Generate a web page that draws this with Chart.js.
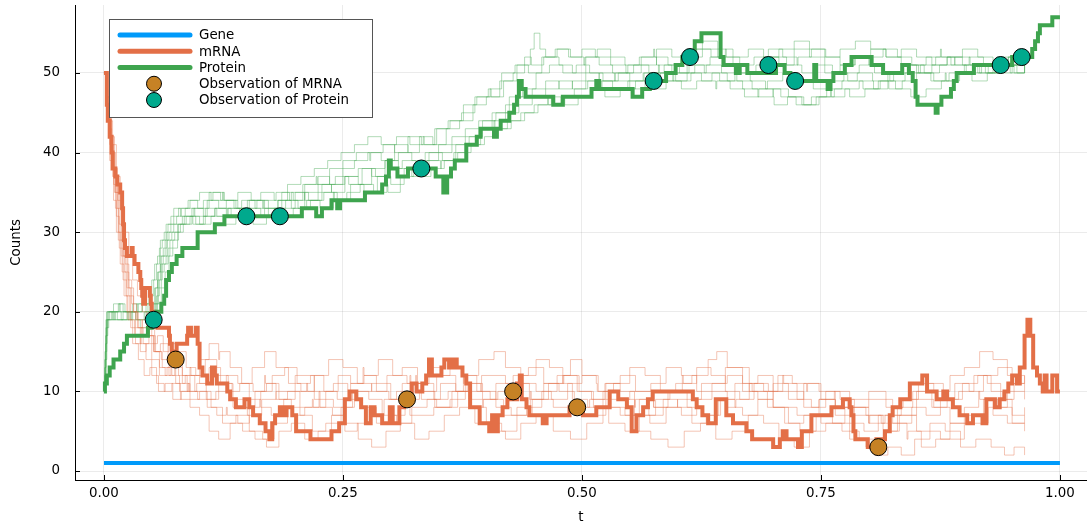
<!DOCTYPE html>
<html><head><meta charset="utf-8">
<script src="https://cdn.jsdelivr.net/npm/chart.js@4"></script>
<style>html,body{margin:0;padding:0;background:#fff;}#wrap{width:1087px;height:527px;}</style>
</head><body>
<div id="wrap"><canvas id="c" width="1087" height="527"></canvas></div>
<script>
// ---------- data ----------
const xTicks = [0, 0.25, 0.5, 0.75, 1.0];
const yTicks = [0, 10, 20, 30, 40, 50];
const seriesNames = ['Gene', 'mRNA', 'Protein', 'Observation of MRNA', 'Observation of Protein'];

const geneRun = [[0,1],[1,1]];

const mrnaRun = [[0,50],[0.003,46],[0.004,44],[0.006,42],[0.008,40],[0.009,38],[0.012,37],[0.014,36],[0.017,35],[0.019,33],[0.020,31],[0.021,29],[0.022,28],[0.024,27],[0.029,28],[0.030,27],[0.032,26],[0.036,25],[0.038,24],[0.039,23],[0.040,22],[0.041,21],[0.043,23],[0.048,22],[0.049,21],[0.050,20],[0.053,19],[0.056,18],[0.068,17],[0.069,16],[0.071,15],[0.076,16],[0.087,17],[0.088,18],[0.091,17],[0.096,18],[0.098,16],[0.100,13],[0.103,12],[0.108,11],[0.113,13],[0.116,12],[0.118,11],[0.129,10],[0.132,9],[0.138,8],[0.147,9],[0.152,8],[0.156,7],[0.163,6],[0.169,5],[0.173,4],[0.176,6],[0.179,7],[0.184,8],[0.187,7],[0.191,8],[0.197,7],[0.201,5],[0.216,4],[0.238,5],[0.246,6],[0.252,9],[0.257,10],[0.264,9],[0.269,8],[0.274,6],[0.279,8],[0.283,7],[0.291,6],[0.299,8],[0.302,6],[0.309,8],[0.314,9],[0.322,11],[0.327,10],[0.333,11],[0.337,12],[0.340,14],[0.343,12],[0.353,13],[0.356,14],[0.361,13],[0.365,14],[0.369,13],[0.375,12],[0.379,11],[0.383,8],[0.393,6],[0.403,5],[0.406,7],[0.408,5],[0.412,7],[0.417,8],[0.422,9],[0.432,11],[0.435,12],[0.437,9],[0.442,8],[0.445,7],[0.459,6],[0.463,7],[0.487,8],[0.501,7],[0.515,8],[0.529,10],[0.538,9],[0.547,8],[0.552,5],[0.557,7],[0.564,8],[0.569,9],[0.574,10],[0.616,9],[0.620,8],[0.626,7],[0.632,6],[0.640,9],[0.651,7],[0.658,6],[0.672,5],[0.678,4],[0.700,3],[0.707,4],[0.710,5],[0.714,4],[0.726,3],[0.730,5],[0.740,7],[0.761,8],[0.773,9],[0.780,8],[0.782,7],[0.784,5],[0.786,4],[0.799,3],[0.808,4],[0.817,5],[0.822,7],[0.825,8],[0.833,9],[0.843,11],[0.856,12],[0.861,10],[0.871,9],[0.878,10],[0.882,9],[0.888,8],[0.895,7],[0.903,6],[0.909,7],[0.919,6],[0.923,9],[0.932,8],[0.937,9],[0.942,10],[0.946,11],[0.950,12],[0.955,11],[0.958,13],[0.963,17],[0.966,19],[0.969,17],[0.972,13],[0.976,12],[0.979,11],[0.982,10],[0.984,12],[0.986,10],[0.992,12],[0.997,10],[1.0,10]];

const proteinRun = [[0,10],[0.001,11],[0.003,12],[0.006,13],[0.010,14],[0.017,15],[0.021,16],[0.024,17],[0.046,18],[0.050,19],[0.055,20],[0.060,21],[0.063,22],[0.065,24],[0.068,25],[0.071,26],[0.076,27],[0.082,28],[0.098,30],[0.116,31],[0.126,32],[0.207,33],[0.222,32],[0.228,33],[0.238,34],[0.244,33],[0.247,34],[0.273,35],[0.291,36],[0.295,37],[0.298,39],[0.300,38],[0.307,37],[0.318,38],[0.347,37],[0.355,35],[0.359,37],[0.363,38],[0.367,39],[0.379,41],[0.390,42],[0.394,43],[0.408,42],[0.411,43],[0.415,44],[0.424,45],[0.429,46],[0.432,47],[0.434,49],[0.437,48],[0.441,47],[0.470,46],[0.480,47],[0.510,48],[0.515,49],[0.518,48],[0.553,47],[0.563,48],[0.571,49],[0.588,50],[0.598,51],[0.605,52],[0.618,54],[0.625,55],[0.645,52],[0.648,51],[0.661,50],[0.665,51],[0.673,50],[0.703,51],[0.712,50],[0.718,49],[0.743,51],[0.745,49],[0.757,48],[0.760,49],[0.763,50],[0.775,51],[0.782,52],[0.803,51],[0.815,50],[0.835,51],[0.842,50],[0.846,49],[0.849,47],[0.851,46],[0.870,45],[0.872,46],[0.876,47],[0.886,48],[0.889,49],[0.892,50],[0.910,51],[0.950,52],[0.971,53],[0.974,54],[0.977,55],[0.979,56],[0.992,57],[1.0,57]];

const mrnaObsT = [0.075, 0.317, 0.428, 0.495, 0.810];
const mrnaObsV = [14, 9, 10, 8, 3];
const proteinObsT = [0.052, 0.149, 0.184, 0.332, 0.575, 0.613, 0.695, 0.723, 0.938, 0.960];
const proteinObsV = [19, 32, 32, 38, 49, 52, 51, 49, 51, 52];

const mrnaSample1 = [[0,50],[0.003,45],[0.006,41],[0.009,37],[0.012,33],[0.015,29],[0.019,25],[0.023,22],[0.027,19],[0.032,17],[0.038,15],[0.044,16],[0.05,14],[0.058,12],[0.066,13],[0.075,11],[0.085,12],[0.095,10],[0.108,9],[0.12,11],[0.135,8],[0.15,7],[0.165,9],[0.18,10],[0.2,12],[0.22,9],[0.24,8],[0.26,10],[0.28,11],[0.3,9],[0.32,7],[0.345,8],[0.37,10],[0.395,12],[0.42,11],[0.445,9],[0.47,8],[0.5,7],[0.525,9],[0.55,10],[0.575,8],[0.6,9],[0.625,11],[0.65,13],[0.675,10],[0.7,8],[0.725,7],[0.75,6],[0.775,8],[0.8,9],[0.825,7],[0.85,5],[0.875,4],[0.9,6],[0.925,8],[0.945,10],[0.963,9]];
const mrnaSample2 = [[0,50],[0.004,46],[0.007,42],[0.011,38],[0.014,34],[0.018,30],[0.021,27],[0.025,24],[0.029,21],[0.034,19],[0.04,17],[0.047,18],[0.053,15],[0.06,14],[0.068,12],[0.074,13],[0.082,11],[0.09,9],[0.1,10],[0.112,8],[0.124,6],[0.138,7],[0.152,5],[0.166,4],[0.178,6],[0.192,8],[0.205,7],[0.218,5],[0.232,6],[0.248,8],[0.262,10],[0.277,9],[0.291,7],[0.306,6],[0.322,8],[0.338,9],[0.352,11],[0.368,10],[0.384,8],[0.4,6],[0.416,5],[0.432,7],[0.448,9],[0.465,11],[0.48,12],[0.497,10],[0.512,8],[0.528,6],[0.545,5],[0.56,7],[0.577,9],[0.592,10],[0.61,8],[0.627,7],[0.643,9],[0.66,11],[0.678,10],[0.694,8],[0.712,6],[0.728,5],[0.745,7],[0.762,6],[0.78,4],[0.797,3],[0.815,5],[0.832,7],[0.85,9],[0.868,8],[0.885,6],[0.903,7],[0.92,9],[0.935,8],[0.95,6],[0.963,7]];
const mrnaSample3 = [[0,50],[0.002,47],[0.005,43],[0.008,39],[0.01,36],[0.013,32],[0.016,28],[0.02,24],[0.024,20],[0.028,18],[0.033,16],[0.039,18],[0.045,17],[0.052,15],[0.059,16],[0.067,14],[0.076,15],[0.086,13],[0.096,12],[0.106,14],[0.118,12],[0.13,10],[0.142,11],[0.155,13],[0.168,15],[0.18,13],[0.193,11],[0.206,10],[0.22,12],[0.235,14],[0.25,13],[0.265,11],[0.28,10],[0.296,12],[0.312,13],[0.328,11],[0.345,9],[0.36,10],[0.376,12],[0.392,14],[0.408,15],[0.42,13],[0.436,11],[0.452,10],[0.468,9],[0.485,11],[0.5,12],[0.517,10],[0.533,11],[0.55,13],[0.566,12],[0.582,10],[0.598,11],[0.615,12],[0.632,14],[0.641,15],[0.652,13],[0.668,11],[0.684,12],[0.7,10],[0.716,9],[0.732,11],[0.748,10],[0.765,8],[0.782,9],[0.8,10],[0.818,8],[0.836,9],[0.852,11],[0.868,10],[0.885,12],[0.9,13],[0.916,15],[0.93,14],[0.945,12],[0.963,11]];
const mrnaSample4 = [[0,50],[0.003,44],[0.006,39],[0.01,34],[0.013,30],[0.017,26],[0.021,22],[0.025,19],[0.03,16],[0.036,14],[0.042,12],[0.048,13],[0.055,11],[0.063,10],[0.071,11],[0.08,9],[0.09,8],[0.1,7],[0.11,5],[0.12,4],[0.132,6],[0.145,5],[0.158,4],[0.17,3],[0.183,5],[0.196,6],[0.21,4],[0.224,5],[0.238,7],[0.252,6],[0.266,4],[0.28,3],[0.295,5],[0.31,6],[0.325,4],[0.34,5],[0.356,7],[0.372,8],[0.388,6],[0.404,5],[0.42,4],[0.436,6],[0.452,7],[0.47,5],[0.488,4],[0.505,6],[0.522,8],[0.54,7],[0.556,5],[0.572,4],[0.59,3],[0.607,5],[0.624,6],[0.64,4],[0.657,5],[0.674,7],[0.69,6],[0.706,4],[0.722,3],[0.738,5],[0.755,6],[0.772,5],[0.79,4],[0.806,2],[0.82,3],[0.834,2],[0.848,4],[0.864,6],[0.88,5],[0.896,3],[0.912,4],[0.928,3],[0.942,2],[0.952,3],[0.963,2]];
const mrnaSample5 = [[0,50],[0.004,45],[0.008,40],[0.012,35],[0.016,31],[0.02,27],[0.024,23],[0.028,20],[0.033,18],[0.038,16],[0.044,14],[0.05,12],[0.057,10],[0.064,11],[0.072,9],[0.081,10],[0.09,12],[0.1,11],[0.11,13],[0.122,11],[0.134,9],[0.146,8],[0.158,10],[0.17,11],[0.183,9],[0.196,7],[0.21,8],[0.225,10],[0.24,11],[0.255,9],[0.27,8],[0.285,6],[0.3,7],[0.315,9],[0.33,10],[0.346,8],[0.362,9],[0.378,11],[0.394,10],[0.41,8],[0.426,7],[0.442,8],[0.458,10],[0.474,11],[0.49,9],[0.506,8],[0.522,10],[0.538,9],[0.555,7],[0.571,6],[0.588,8],[0.604,7],[0.62,9],[0.636,10],[0.652,8],[0.668,7],[0.684,9],[0.7,8],[0.716,6],[0.732,7],[0.748,9],[0.764,10],[0.78,8],[0.797,7],[0.813,6],[0.83,8],[0.846,10],[0.862,11],[0.878,9],[0.894,10],[0.91,12],[0.924,11],[0.938,9],[0.95,7],[0.963,8]];
const mrnaSample6 = [[0,50],[0.003,46],[0.007,41],[0.01,37],[0.014,33],[0.018,29],[0.022,26],[0.026,23],[0.031,20],[0.036,18],[0.041,16],[0.047,17],[0.054,15],[0.061,13],[0.069,14],[0.078,12],[0.087,10],[0.097,11],[0.107,9],[0.117,10],[0.128,12],[0.14,11],[0.152,9],[0.164,10],[0.176,12],[0.189,13],[0.202,11],[0.216,12],[0.23,10],[0.244,9],[0.258,11],[0.272,12],[0.287,14],[0.302,12],[0.317,11],[0.332,9],[0.348,8],[0.364,10],[0.38,11],[0.396,9],[0.412,10],[0.428,12],[0.444,13],[0.46,11],[0.476,10],[0.492,8],[0.508,9],[0.524,11],[0.54,12],[0.556,10],[0.572,11],[0.588,13],[0.604,12],[0.62,10],[0.636,11],[0.652,12],[0.668,10],[0.684,9],[0.7,11],[0.716,10],[0.732,8],[0.748,9],[0.765,7],[0.782,8],[0.8,6],[0.817,7],[0.834,9],[0.85,10],[0.866,8],[0.882,9],[0.898,11],[0.914,12],[0.928,10],[0.94,9],[0.952,11],[0.963,10]];
const mrnaSample7 = [[0,50],[0.002,48],[0.004,44],[0.007,40],[0.011,35],[0.015,30],[0.018,27],[0.022,25],[0.026,22],[0.031,20],[0.035,18],[0.04,19],[0.046,17],[0.052,15],[0.058,13],[0.064,12],[0.07,13],[0.071,12],[0.079,10],[0.088,11],[0.089,10],[0.098,9],[0.108,8],[0.118,7],[0.128,8],[0.129,7],[0.14,6],[0.152,8],[0.163,9],[0.164,8],[0.175,7],[0.188,9],[0.2,10],[0.212,11],[0.213,10],[0.226,8],[0.239,7],[0.252,5],[0.265,6],[0.279,8],[0.28,7],[0.293,9],[0.306,10],[0.32,12],[0.321,11],[0.334,10],[0.348,12],[0.362,13],[0.376,11],[0.377,12],[0.39,10],[0.404,9],[0.418,7],[0.432,8],[0.446,10],[0.447,9],[0.46,11],[0.474,12],[0.488,14],[0.5,12],[0.515,11],[0.516,10],[0.53,8],[0.545,7],[0.56,9],[0.575,8],[0.59,10],[0.605,12],[0.606,11],[0.62,13],[0.635,12],[0.65,10],[0.665,9],[0.68,11],[0.695,10],[0.71,12],[0.711,11],[0.725,9],[0.74,8],[0.755,10],[0.77,9],[0.785,7],[0.8,6],[0.801,7],[0.815,5],[0.83,6],[0.845,8],[0.86,7],[0.875,9],[0.89,11],[0.905,10],[0.92,12],[0.935,13],[0.95,11],[0.963,12]];
const mrnaSample8 = [[0,50],[0.003,47],[0.006,44],[0.009,41],[0.013,37],[0.017,33],[0.021,30],[0.026,27],[0.03,24],[0.035,22],[0.04,20],[0.045,18],[0.05,16],[0.056,17],[0.062,15],[0.068,16],[0.075,14],[0.082,12],[0.09,13],[0.091,12],[0.1,14],[0.11,16],[0.12,14],[0.121,15],[0.132,13],[0.144,11],[0.156,10],[0.168,12],[0.169,11],[0.18,9],[0.192,10],[0.205,8],[0.218,9],[0.219,8],[0.232,10],[0.245,12],[0.258,11],[0.271,13],[0.272,12],[0.285,10],[0.298,9],[0.312,11],[0.326,12],[0.327,11],[0.34,13],[0.354,12],[0.368,10],[0.382,9],[0.396,8],[0.397,9],[0.41,11],[0.424,10],[0.438,12],[0.452,14],[0.466,13],[0.48,11],[0.481,12],[0.495,10],[0.51,9],[0.525,11],[0.54,10],[0.555,8],[0.556,9],[0.57,7],[0.585,9],[0.6,8],[0.615,6],[0.63,7],[0.645,9],[0.66,8],[0.661,9],[0.675,11],[0.69,10],[0.705,12],[0.72,11],[0.735,10],[0.736,11],[0.75,9],[0.765,8],[0.78,6],[0.795,5],[0.81,7],[0.825,6],[0.84,4],[0.841,5],[0.855,3],[0.87,4],[0.885,6],[0.9,8],[0.915,10],[0.916,9],[0.93,7],[0.945,6],[0.963,5]];

const proteinSample1 = [[0,10],[0.001,13],[0.002,16],[0.003,19],[0.004,20],[0.015,21],[0.02,20],[0.035,19],[0.042,20],[0.05,21],[0.053,23],[0.056,25],[0.059,27],[0.062,28],[0.066,30],[0.07,31],[0.076,32],[0.085,33],[0.095,32],[0.108,34],[0.12,33],[0.133,32],[0.146,33],[0.16,34],[0.172,33],[0.186,35],[0.198,34],[0.21,36],[0.224,37],[0.236,36],[0.25,38],[0.262,39],[0.276,40],[0.29,39],[0.304,41],[0.318,40],[0.33,42],[0.344,41],[0.358,43],[0.372,44],[0.386,46],[0.4,47],[0.414,49],[0.428,50],[0.44,52],[0.446,53],[0.45,55],[0.456,53],[0.462,52],[0.476,51],[0.49,50],[0.504,52],[0.518,51],[0.532,50],[0.548,51],[0.562,52],[0.578,51],[0.594,50],[0.61,52],[0.626,53],[0.642,52],[0.658,51],[0.674,50],[0.69,52],[0.706,51],[0.722,53],[0.738,52],[0.754,50],[0.77,51],[0.786,52],[0.802,53],[0.818,52],[0.834,51],[0.85,50],[0.866,51],[0.882,52],[0.898,51],[0.914,50],[0.93,51],[0.946,52],[0.963,52]];
const proteinSample2 = [[0,10],[0.001,12],[0.002,15],[0.003,18],[0.004,19],[0.012,20],[0.025,19],[0.038,18],[0.046,19],[0.052,20],[0.055,22],[0.058,24],[0.061,26],[0.065,27],[0.069,29],[0.074,30],[0.08,31],[0.09,32],[0.1,31],[0.112,32],[0.125,31],[0.138,32],[0.15,33],[0.164,32],[0.178,33],[0.19,34],[0.203,33],[0.216,34],[0.23,35],[0.244,34],[0.258,36],[0.272,35],[0.286,37],[0.3,36],[0.314,38],[0.328,37],[0.342,38],[0.356,39],[0.37,40],[0.384,41],[0.398,42],[0.412,43],[0.426,44],[0.44,45],[0.454,46],[0.468,47],[0.482,46],[0.496,47],[0.51,48],[0.524,47],[0.54,48],[0.556,49],[0.572,48],[0.588,49],[0.604,48],[0.62,49],[0.636,50],[0.652,49],[0.668,48],[0.684,47],[0.7,48],[0.716,47],[0.732,46],[0.748,47],[0.764,48],[0.78,47],[0.796,48],[0.812,49],[0.828,48],[0.844,47],[0.86,48],[0.876,49],[0.892,50],[0.908,49],[0.924,50],[0.94,51],[0.963,51]];
const proteinSample3 = [[0,10],[0.001,14],[0.002,17],[0.003,20],[0.01,21],[0.022,20],[0.03,21],[0.044,20],[0.049,22],[0.052,24],[0.055,26],[0.058,28],[0.061,29],[0.065,31],[0.07,32],[0.078,33],[0.088,34],[0.098,33],[0.11,35],[0.122,34],[0.136,33],[0.15,34],[0.164,35],[0.178,34],[0.192,36],[0.206,37],[0.22,38],[0.234,39],[0.248,40],[0.262,41],[0.276,42],[0.29,41],[0.304,40],[0.318,42],[0.332,41],[0.346,43],[0.36,44],[0.374,45],[0.388,47],[0.402,48],[0.416,50],[0.43,51],[0.444,50],[0.458,52],[0.472,53],[0.486,52],[0.5,53],[0.514,52],[0.53,51],[0.546,50],[0.562,51],[0.578,53],[0.594,52],[0.61,53],[0.626,54],[0.642,53],[0.658,52],[0.674,53],[0.69,52],[0.706,53],[0.722,54],[0.738,53],[0.754,52],[0.77,53],[0.786,54],[0.802,53],[0.818,52],[0.834,53],[0.85,52],[0.866,51],[0.882,52],[0.898,53],[0.914,52],[0.93,51],[0.946,52],[0.963,53]];
const proteinSample4 = [[0,10],[0.001,13],[0.002,17],[0.003,19],[0.006,20],[0.018,19],[0.03,20],[0.04,21],[0.048,20],[0.051,21],[0.054,23],[0.057,25],[0.06,27],[0.064,29],[0.068,30],[0.073,31],[0.082,32],[0.092,33],[0.104,32],[0.116,33],[0.128,34],[0.14,33],[0.154,32],[0.168,33],[0.182,34],[0.196,33],[0.21,35],[0.224,36],[0.238,35],[0.252,37],[0.266,38],[0.28,37],[0.294,39],[0.308,40],[0.322,39],[0.336,40],[0.35,41],[0.364,42],[0.378,43],[0.392,44],[0.406,45],[0.42,46],[0.434,47],[0.448,48],[0.462,49],[0.476,48],[0.49,49],[0.504,50],[0.518,49],[0.532,48],[0.548,49],[0.564,50],[0.58,49],[0.596,50],[0.612,51],[0.628,50],[0.644,49],[0.66,50],[0.676,49],[0.692,48],[0.708,47],[0.724,46],[0.74,47],[0.756,48],[0.772,49],[0.788,50],[0.804,49],[0.82,50],[0.836,51],[0.852,50],[0.868,49],[0.884,50],[0.9,51],[0.916,50],[0.932,51],[0.948,50],[0.963,51]];
const proteinSample5 = [[0,10],[0.001,12],[0.002,16],[0.003,18],[0.005,20],[0.014,19],[0.026,20],[0.036,21],[0.046,20],[0.054,21],[0.057,23],[0.06,25],[0.063,26],[0.067,28],[0.072,29],[0.078,31],[0.086,32],[0.096,31],[0.106,33],[0.118,32],[0.13,33],[0.144,34],[0.158,33],[0.172,32],[0.186,33],[0.2,35],[0.214,34],[0.228,36],[0.242,37],[0.256,36],[0.27,38],[0.284,37],[0.298,38],[0.312,39],[0.326,38],[0.34,40],[0.354,39],[0.368,41],[0.382,42],[0.396,44],[0.41,45],[0.424,47],[0.438,48],[0.452,50],[0.466,51],[0.48,50],[0.494,51],[0.508,50],[0.522,49],[0.538,50],[0.554,51],[0.57,50],[0.586,51],[0.602,50],[0.618,51],[0.634,52],[0.65,51],[0.666,50],[0.682,51],[0.698,52],[0.714,51],[0.73,50],[0.746,51],[0.762,50],[0.778,49],[0.794,48],[0.81,49],[0.826,50],[0.842,51],[0.858,50],[0.874,51],[0.89,52],[0.906,51],[0.922,50],[0.938,51],[0.952,50],[0.963,51]];
const proteinSample6 = [[0,10],[0.001,14],[0.002,18],[0.003,20],[0.009,19],[0.02,20],[0.033,19],[0.043,20],[0.05,19],[0.053,21],[0.056,24],[0.059,26],[0.062,27],[0.066,29],[0.071,30],[0.077,31],[0.084,32],[0.094,33],[0.104,34],[0.114,35],[0.126,34],[0.14,35],[0.154,34],[0.168,33],[0.182,34],[0.196,35],[0.21,34],[0.224,35],[0.238,36],[0.252,37],[0.266,36],[0.28,38],[0.294,39],[0.308,38],[0.322,37],[0.336,39],[0.35,40],[0.364,41],[0.378,42],[0.392,43],[0.406,44],[0.42,45],[0.434,46],[0.448,47],[0.462,48],[0.476,49],[0.49,48],[0.504,49],[0.518,50],[0.534,49],[0.55,48],[0.566,49],[0.582,50],[0.598,49],[0.614,50],[0.63,51],[0.646,50],[0.662,49],[0.678,48],[0.694,49],[0.71,50],[0.726,49],[0.742,48],[0.758,49],[0.774,50],[0.79,51],[0.806,50],[0.822,49],[0.838,50],[0.854,51],[0.87,52],[0.886,51],[0.902,50],[0.918,51],[0.934,52],[0.95,51],[0.963,52]];
const proteinSample7 = [[0,10],[0.001,15],[0.002,19],[0.008,20],[0.016,21],[0.017,20],[0.028,19],[0.029,20],[0.04,21],[0.047,22],[0.05,24],[0.053,26],[0.056,27],[0.059,29],[0.063,30],[0.067,31],[0.073,33],[0.08,32],[0.081,33],[0.09,34],[0.1,35],[0.112,34],[0.124,35],[0.125,34],[0.138,33],[0.152,34],[0.166,33],[0.167,34],[0.18,35],[0.194,34],[0.208,36],[0.222,37],[0.223,36],[0.236,38],[0.25,39],[0.264,40],[0.278,39],[0.279,40],[0.292,41],[0.306,42],[0.32,41],[0.334,42],[0.335,41],[0.348,43],[0.362,44],[0.376,46],[0.39,47],[0.404,48],[0.405,47],[0.418,49],[0.432,51],[0.446,52],[0.447,51],[0.46,52],[0.474,53],[0.488,52],[0.502,51],[0.503,52],[0.516,53],[0.53,52],[0.545,51],[0.56,52],[0.575,53],[0.576,52],[0.59,51],[0.605,52],[0.62,53],[0.635,52],[0.65,53],[0.651,52],[0.665,51],[0.68,52],[0.695,53],[0.71,52],[0.725,51],[0.726,52],[0.74,53],[0.755,52],[0.77,51],[0.785,52],[0.8,51],[0.801,52],[0.815,53],[0.83,52],[0.845,51],[0.86,52],[0.875,53],[0.876,52],[0.89,51],[0.905,52],[0.92,51],[0.935,50],[0.95,51],[0.963,51]];
const proteinSample8 = [[0,10],[0.001,12],[0.002,14],[0.003,17],[0.004,19],[0.01,20],[0.011,19],[0.024,20],[0.034,21],[0.035,20],[0.045,19],[0.052,20],[0.056,21],[0.06,23],[0.064,25],[0.068,27],[0.072,28],[0.077,30],[0.083,31],[0.092,32],[0.093,31],[0.104,32],[0.116,33],[0.128,32],[0.129,33],[0.142,32],[0.156,31],[0.17,32],[0.184,33],[0.185,32],[0.198,33],[0.212,34],[0.226,33],[0.24,35],[0.241,34],[0.254,35],[0.268,36],[0.282,35],[0.296,36],[0.297,35],[0.31,37],[0.324,38],[0.338,39],[0.352,38],[0.353,39],[0.366,40],[0.38,41],[0.394,43],[0.408,44],[0.409,43],[0.422,44],[0.436,45],[0.45,46],[0.464,47],[0.465,46],[0.478,47],[0.492,48],[0.506,49],[0.52,48],[0.521,49],[0.535,50],[0.55,49],[0.565,50],[0.58,51],[0.581,50],[0.595,49],[0.61,50],[0.625,49],[0.64,48],[0.641,49],[0.655,48],[0.67,47],[0.685,48],[0.7,47],[0.701,46],[0.715,47],[0.73,46],[0.745,47],[0.76,48],[0.761,47],[0.775,48],[0.79,49],[0.805,48],[0.82,49],[0.821,48],[0.835,49],[0.85,50],[0.865,49],[0.88,50],[0.881,49],[0.895,50],[0.91,51],[0.925,50],[0.94,51],[0.955,50],[0.963,51]];

const mrnaSamples = [mrnaSample1, mrnaSample2, mrnaSample3, mrnaSample4, mrnaSample5, mrnaSample6, mrnaSample7, mrnaSample8];
const proteinSamples = [proteinSample1, proteinSample2, proteinSample3, proteinSample4, proteinSample5, proteinSample6, proteinSample7, proteinSample8];

// ---------- styling ----------
const C_GENE = '#009AFA', C_MRNA = '#E36F47', C_PROT = '#3EA44E', C_OBS_M = '#C68225', C_OBS_P = '#00A98D';
const FONT = 'DejaVu Sans';
const FS = 13.4;
Chart.defaults.font.family = FONT;
Chart.defaults.font.size = FS;
Chart.defaults.color = '#000';

const toXY = run => run.map(p => ({x: p[0], y: p[1]}));
const zipXY = (ts, vs) => ts.map((t, i) => ({x: t, y: vs[i]}));

function stepSet(label, run, color, width, order) {
  return {label, data: toXY(run), showLine: true, stepped: true, borderColor: color,
    backgroundColor: color, borderWidth: width, pointRadius: 0, pointHoverRadius: 0,
    fill: false, order, borderJoinStyle: 'miter', borderCapStyle: 'butt'};
}

const datasets = [];
datasets.push({label: seriesNames[3], data: zipXY(mrnaObsT, mrnaObsV), showLine: false,
  pointRadius: 8.5, pointBackgroundColor: C_OBS_M, pointBorderColor: '#000', pointBorderWidth: 1, order: 0});
datasets.push({label: seriesNames[4], data: zipXY(proteinObsT, proteinObsV), showLine: false,
  pointRadius: 8.5, pointBackgroundColor: C_OBS_P, pointBorderColor: '#000', pointBorderWidth: 1, order: 0});
datasets.push(stepSet(seriesNames[2], proteinRun, C_PROT, 4, 1));
datasets.push(stepSet(seriesNames[1], mrnaRun, C_MRNA, 4, 2));
datasets.push(stepSet(seriesNames[0], geneRun, C_GENE, 4, 3));
mrnaSamples.forEach((r, i) => datasets.push(stepSet('mRNA sample ' + (i + 1), r, 'rgba(227,111,71,0.4)', 1, 10)));
proteinSamples.forEach((r, i) => datasets.push(stepSet('Protein sample ' + (i + 1), r, 'rgba(62,164,78,0.4)', 1, 10)));

// legend + inner tick marks drawn with chart geometry
const juliaLegend = {
  id: 'juliaLegend',
  afterDraw(chart) {
    const ctx = chart.ctx, a = chart.chartArea;
    const xs = chart.scales.x, ys = chart.scales.y;
    ctx.save();
    ctx.strokeStyle = '#000'; ctx.lineWidth = 1;
    xTicks.forEach(v => { const px = Math.round(xs.getPixelForValue(v)) + 0.5;
      ctx.beginPath(); ctx.moveTo(px, a.bottom); ctx.lineTo(px, a.bottom - 5); ctx.stroke(); });
    yTicks.forEach(v => { const py = Math.round(ys.getPixelForValue(v)) + 0.5;
      ctx.beginPath(); ctx.moveTo(a.left, py); ctx.lineTo(a.left + 5, py); ctx.stroke(); });
    const bx = a.left + 34, by = a.top + 14, bw = 263, bh = 98;
    ctx.fillStyle = '#fff'; ctx.fillRect(bx, by, bw, bh);
    ctx.strokeStyle = '#555'; ctx.lineWidth = 1;
    ctx.strokeRect(bx + 0.5, by + 0.5, bw, bh);
    const rowH = 16.25, r0 = by + 16;
    const items = [
      {t: 'line', c: C_GENE}, {t: 'line', c: C_MRNA}, {t: 'line', c: C_PROT},
      {t: 'dot', c: C_OBS_M}, {t: 'dot', c: C_OBS_P}];
    ctx.font = FS + 'px ' + FONT; ctx.textBaseline = 'middle'; ctx.textAlign = 'left';
    items.forEach((it, i) => {
      const y = r0 + i * rowH;
      if (it.t === 'line') {
        ctx.strokeStyle = it.c; ctx.lineWidth = 5; ctx.lineCap = 'round';
        ctx.beginPath(); ctx.moveTo(bx + 11, y); ctx.lineTo(bx + 81, y); ctx.stroke();
      } else {
        ctx.fillStyle = it.c; ctx.strokeStyle = '#000'; ctx.lineWidth = 1;
        ctx.beginPath(); ctx.arc(bx + 45, y, 7.5, 0, Math.PI * 2); ctx.fill(); ctx.stroke();
      }
      ctx.fillStyle = '#000';
      ctx.fillText(seriesNames[i], bx + 90, y + 1);
    });
    ctx.restore();
  }
};

new Chart(document.getElementById('c'), {
  type: 'scatter',
  data: {datasets},
  options: {
    responsive: false, animation: false, devicePixelRatio: 1,
    layout: {autoPadding: false, padding: {top: 5, right: 0, bottom: 0, left: 0}},
    plugins: {legend: {display: false}, tooltip: {enabled: false}},
    events: [],
    scales: {
      x: {type: 'linear', min: -0.0303, max: 1.0283,
        afterBuildTicks: s => { s.ticks = xTicks.map(v => ({value: v})); },
        afterFit: s => { s.height = 47; s.paddingLeft = 0; s.paddingRight = 0; },
        ticks: {callback: v => Number(v).toFixed(2), padding: 5, maxRotation: 0, autoSkip: false},
        grid: {color: 'rgba(0,0,0,0.08)', lineWidth: 1, drawTicks: false},
        border: {color: '#000', width: 1},
        title: {display: true, text: 't', padding: {top: 2, bottom: 1}}},
      y: {type: 'linear', min: -1.13, max: 58.54,
        afterBuildTicks: s => { s.ticks = yTicks.map(v => ({value: v})); },
        afterFit: s => { s.width = 75; s.paddingTop = 0; s.paddingBottom = 0; },
        ticks: {callback: v => String(v), padding: 15, autoSkip: false},
        grid: {color: 'rgba(0,0,0,0.08)', lineWidth: 1, drawTicks: false},
        border: {color: '#000', width: 1},
        title: {display: true, text: 'Counts', padding: {top: 8, bottom: 2}}}
    }
  },
  plugins: [juliaLegend]
});
</script>
</body></html>
